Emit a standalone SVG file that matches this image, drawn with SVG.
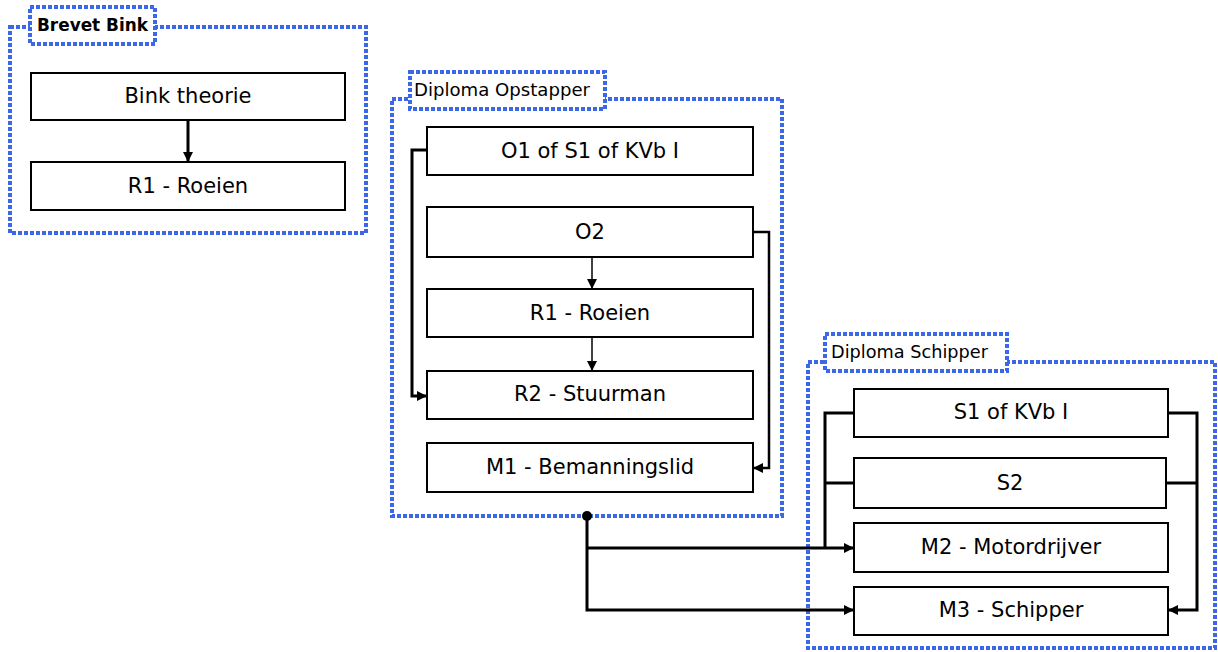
<svg xmlns="http://www.w3.org/2000/svg" width="1218" height="652" viewBox="0 0 1218 652">
<defs>
<marker id="ah" viewBox="0 0 10 10" refX="10" refY="5" markerWidth="10" markerHeight="10" markerUnits="userSpaceOnUse" orient="auto">
<path d="M0,0 L10,5 L0,10 Z" fill="#000"/>
</marker>
</defs>
<style>
.grp{fill:none;stroke:#3b68e8;stroke-width:4;stroke-dasharray:4 2}
.tab{fill:#fff;stroke:#3b68e8;stroke-width:4;stroke-dasharray:4 2}
.tabt{font-family:"Comic Sans MS","DejaVu Sans",sans-serif;font-size:17px;fill:#000;dominant-baseline:central}
.box{fill:#fff;stroke:#000;stroke-width:2}
.bt{font-family:"Comic Sans MS","DejaVu Sans",sans-serif;font-size:21px;fill:#000;text-anchor:middle;dominant-baseline:central}
.c{fill:none;stroke:#000;stroke-width:3}
.ct{fill:none;stroke:#000;stroke-width:1.5}
</style>
<rect width="1218" height="652" fill="#fff"/>
<g id="brevet-bink">
<rect class="grp" x="10" y="27" width="356" height="206"/>
<rect class="tab" x="30" y="7" width="125" height="37"/>
<text class="tabt" x="37" y="25" font-weight="bold" textLength="111" lengthAdjust="spacingAndGlyphs">Brevet Bink</text>
</g>
<g id="diploma-opstapper">
<rect class="grp" x="392" y="99" width="390" height="417"/>
<rect class="tab" x="410" y="72" width="195" height="37"/>
<text class="tabt" x="414" y="90" textLength="176" lengthAdjust="spacingAndGlyphs">Diploma Opstapper</text>
</g>
<g id="diploma-schipper">
<rect class="grp" x="808" y="362" width="407" height="286"/>
<rect class="tab" x="825" y="334" width="182" height="37"/>
<text class="tabt" x="831" y="352" textLength="157" lengthAdjust="spacingAndGlyphs">Diploma Schipper</text>
</g>
<g id="bink-theorie"><rect class="box" x="31" y="73" width="314" height="47"/><text class="bt" x="188" y="96">Bink theorie</text></g>
<g id="bink-r1"><rect class="box" x="31" y="162" width="314" height="48"/><text class="bt" x="188" y="186">R1 - Roeien</text></g>
<g id="o1"><rect class="box" x="427" y="127" width="326" height="48"/><text class="bt" x="590" y="151">O1 of S1 of KVb I</text></g>
<g id="o2"><rect class="box" x="427" y="207" width="326" height="50"/><text class="bt" x="590" y="232">O2</text></g>
<g id="op-r1"><rect class="box" x="427" y="289" width="326" height="48"/><text class="bt" x="590" y="313">R1 - Roeien</text></g>
<g id="r2"><rect class="box" x="427" y="371" width="326" height="48"/><text class="bt" x="590" y="394">R2 - Stuurman</text></g>
<g id="m1"><rect class="box" x="427" y="443" width="326" height="49"/><text class="bt" x="590" y="467">M1 - Bemanningslid</text></g>
<g id="s1"><rect class="box" x="854" y="389" width="314" height="48"/><text class="bt" x="1011" y="412">S1 of KVb I</text></g>
<g id="s2"><rect class="box" x="854" y="458" width="312" height="50"/><text class="bt" x="1010" y="483">S2</text></g>
<g id="m2"><rect class="box" x="854" y="523" width="314" height="49"/><text class="bt" x="1011" y="547">M2 - Motordrijver</text></g>
<g id="m3"><rect class="box" x="854" y="587" width="314" height="48"/><text class="bt" x="1011" y="610">M3 - Schipper</text></g>
<g id="connectors">
<line class="c" x1="188" y1="120" x2="188" y2="162" marker-end="url(#ah)"/>
<polyline class="c" points="427,150 412,150 412,396 427,396" marker-end="url(#ah)"/>
<polyline class="c" points="753,232 769,232 769,468 753,468" marker-end="url(#ah)" style="stroke-width:2.5"/>
<line class="ct" x1="592" y1="257" x2="592" y2="289" marker-end="url(#ah)"/>
<line class="ct" x1="592" y1="337" x2="592" y2="371" marker-end="url(#ah)"/>
<circle cx="587" cy="516" r="5" fill="#000"/>
<polyline class="c" points="587,516 587,610 854,610" marker-end="url(#ah)"/>
<polyline class="c" points="587,548 854,548" marker-end="url(#ah)"/>
<polyline class="c" points="854,413 825,413 825,548"/>
<line class="c" x1="825" y1="483" x2="854" y2="483"/>
<polyline class="c" points="1168,413 1197,413 1197,610 1168,610" marker-end="url(#ah)"/>
<line class="c" x1="1166" y1="483" x2="1197" y2="483"/>
</g>
</svg>
